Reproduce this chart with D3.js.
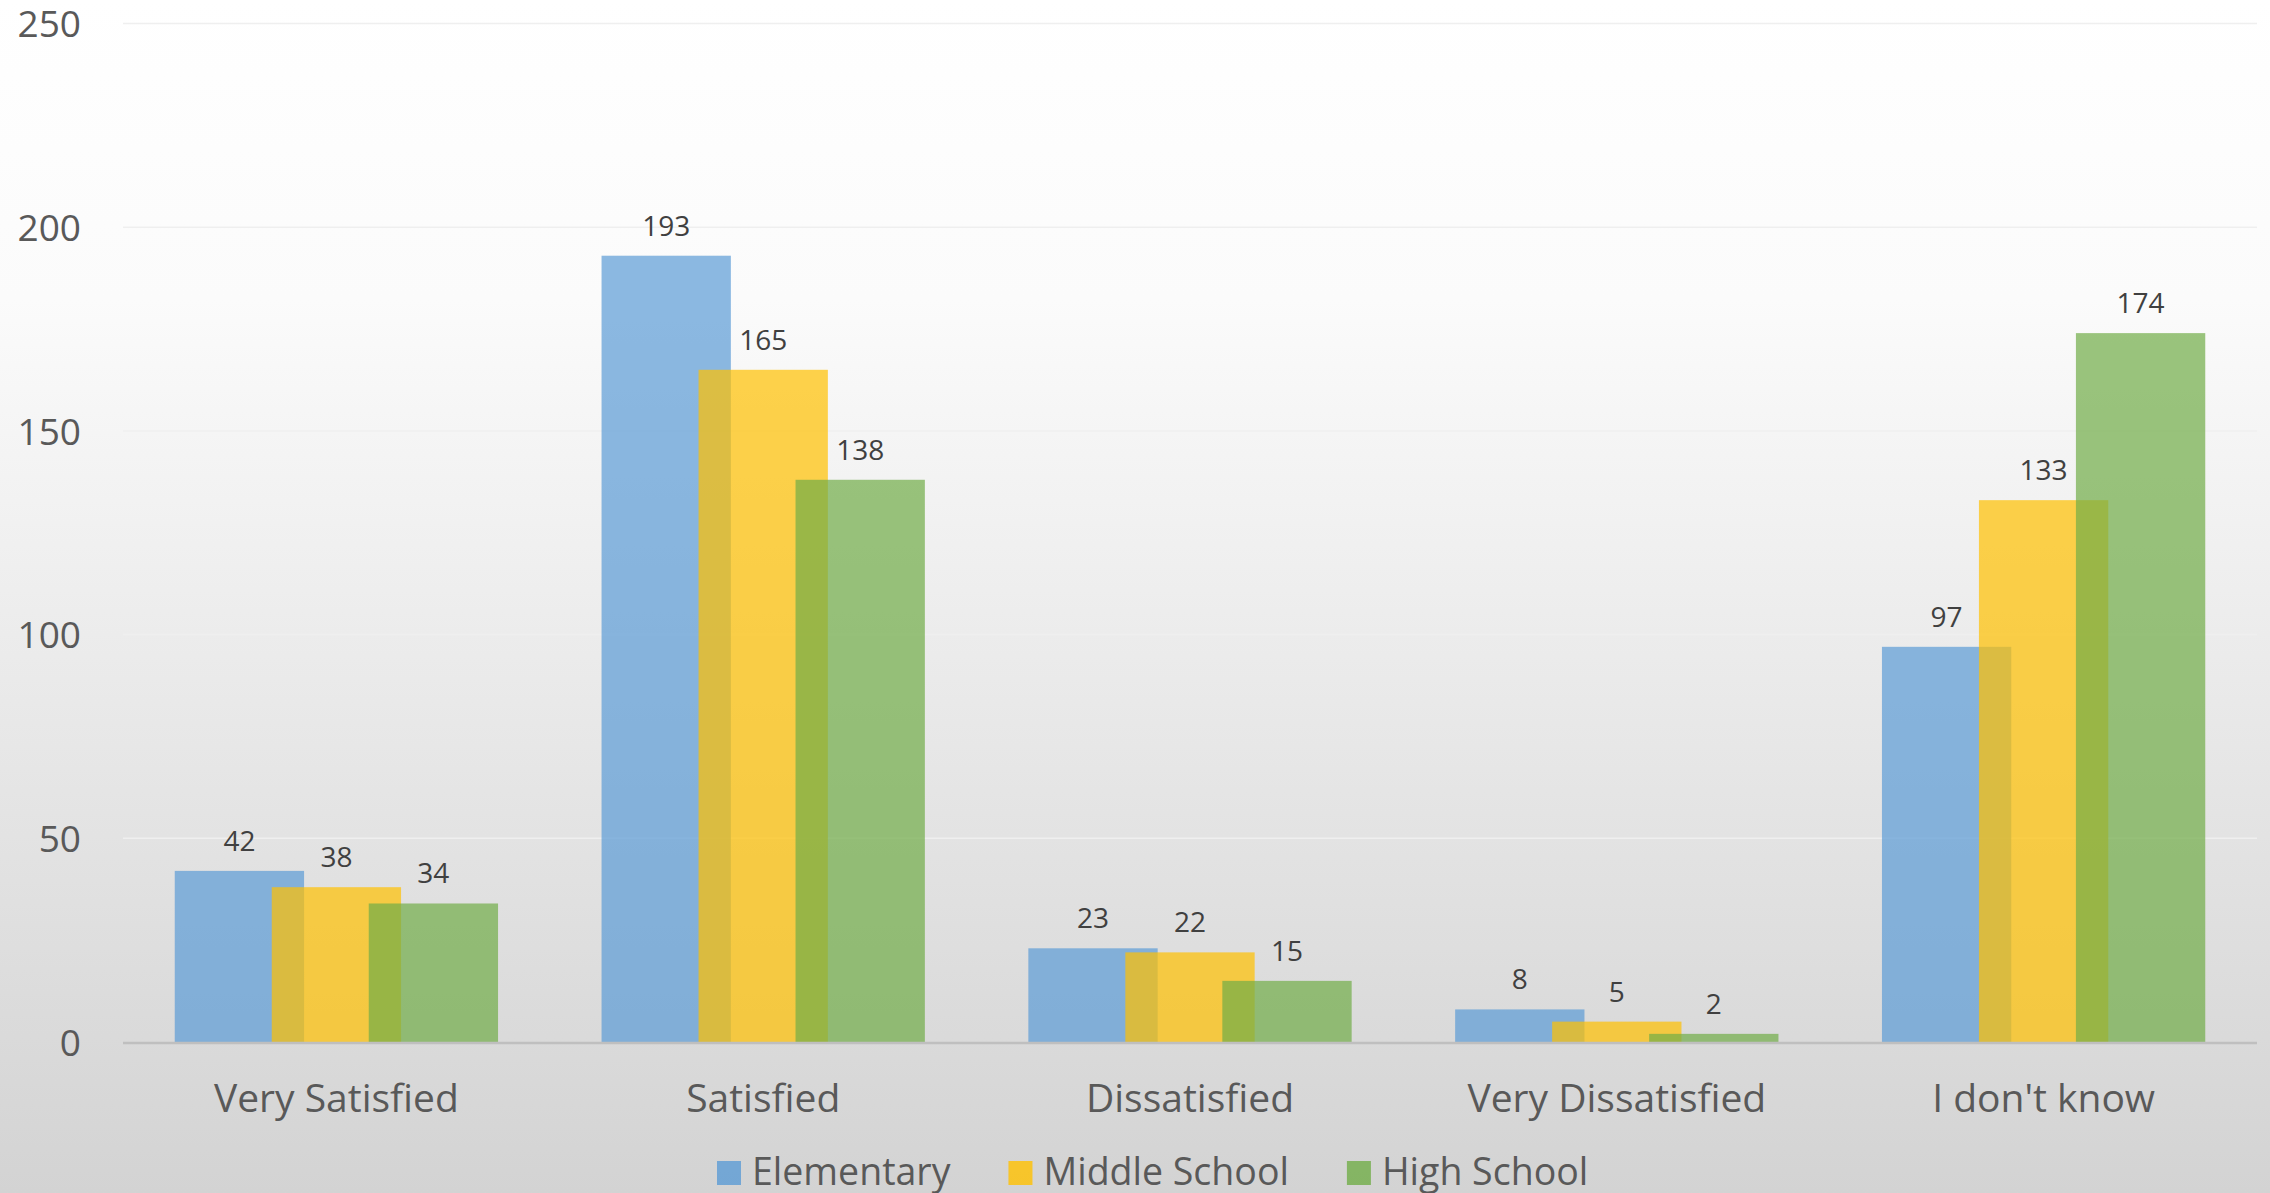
<!DOCTYPE html>
<html>
<head>
<meta charset="utf-8">
<script src="https://cdn.jsdelivr.net/npm/d3@7"></script>
<style>
  html, body { margin: 0; padding: 0; background: #fff; }
  svg { display: block; font-family: "Open Sans", "Noto Sans", sans-serif; }
</style>
</head>
<body>
<svg id="chart"></svg>
<script>
const width = 2270
const height = 1193

// data
const categories = ["Very Satisfied", "Satisfied", "Dissatisfied", "Very Dissatisfied", "I don't know"]
const seriesNames = ["Elementary", "Middle School", "High School"]
const elementary = [42, 193, 23, 8, 97]
const middleSchool = [38, 165, 22, 5, 133]
const highSchool = [34, 138, 15, 2, 174]
const yTicks = [0, 50, 100, 150, 200, 250]

const seriesValues = [elementary, middleSchool, highSchool]
const colors = ["#5B9BD5", "#FFC000", "#70AD47"]

const marge = {top: 23.5, bottom: 151, left: 123, right: 13}

const svg = d3.select('#chart').attr('width', width).attr('height', height)

// background gradient
const defs = svg.append('defs')
const grad = defs.append('linearGradient').attr('id', 'bg').attr('x1', 0).attr('y1', 0).attr('x2', 0).attr('y2', 1)
grad.append('stop').attr('offset', '0%').attr('stop-color', '#ffffff')
grad.append('stop').attr('offset', '25%').attr('stop-color', '#fbfbfb')
grad.append('stop').attr('offset', '100%').attr('stop-color', '#d3d3d3')
svg.append('rect').attr('width', width).attr('height', height).attr('fill', 'url(#bg)')

// scales
const x = d3.scaleBand().domain(categories)
  .range([marge.left, width - marge.right])
  .paddingInner(0.2425).paddingOuter(0.12125)
const barW = x.bandwidth() / 2.5   // bars overlap by a quarter of their width
const xs = d3.scalePoint().domain(d3.range(seriesNames.length)).range([0, x.bandwidth() - barW])
const y = d3.scaleLinear().domain([0, 250]).range([height - marge.bottom, marge.top])

// gridlines
svg.append('g').selectAll('line').data(yTicks.filter(d => d > 0)).enter().append('line')
  .attr('x1', marge.left).attr('x2', width - marge.right)
  .attr('y1', d => y(d)).attr('y2', d => y(d))
  .attr('stroke', '#efefef').attr('stroke-width', 1.5)

// y axis labels
const yAxis = svg.append('g').attr('transform', 'translate(' + (marge.left - 42) + ',0)')
  .call(d3.axisLeft(y).tickValues(yTicks).tickSize(0).tickPadding(0))
yAxis.select('.domain').remove()
yAxis.selectAll('text').attr('font-size', 37).attr('fill', '#595959')
  .attr('font-family', '"Open Sans", sans-serif').attr('dy', '0.36em')

// bars
seriesValues.forEach(function (vals, si) {
  const g = svg.append('g')
  g.selectAll('rect').data(vals).enter().append('rect')
    .attr('x', (d, i) => x(categories[i]) + xs(si))
    .attr('y', d => y(d))
    .attr('width', barW)
    .attr('height', d => y(0) - y(d))
    .attr('fill', colors[si])
    .attr('fill-opacity', 0.7)
})

// data labels
seriesValues.forEach(function (vals, si) {
  svg.append('g').selectAll('text').data(vals).enter().append('text')
    .attr('x', (d, i) => x(categories[i]) + xs(si) + barW / 2)
    .attr('y', d => y(d) - 20)
    .attr('text-anchor', 'middle')
    .attr('font-size', 28)
    .attr('fill', '#404040')
    .text(d => d)
})

// x axis
svg.append('line')
  .attr('x1', marge.left).attr('x2', width - marge.right)
  .attr('y1', y(0) + 1).attr('y2', y(0) + 1)
  .attr('stroke', '#bfbfbf').attr('stroke-width', 2.5)

svg.append('g').selectAll('text').data(categories).enter().append('text')
  .attr('x', d => x(d) + x.bandwidth() / 2)
  .attr('y', 1112)
  .attr('text-anchor', 'middle')
  .attr('font-size', 39)
  .attr('fill', '#595959')
  .text(d => d)

// legend
const legend = svg.append('g')
let lx = 717
seriesNames.forEach(function (name, i) {
  legend.append('rect').attr('x', lx).attr('y', 1161).attr('width', 24).attr('height', 24)
    .attr('fill', colors[i]).attr('fill-opacity', 0.8)
  const t = legend.append('text').attr('x', lx + 35).attr('y', 1185)
    .attr('font-size', 37.5).attr('fill', '#595959').text(name)
  lx += 35 + t.node().getComputedTextLength() + 58
})
</script>
</body>
</html>
